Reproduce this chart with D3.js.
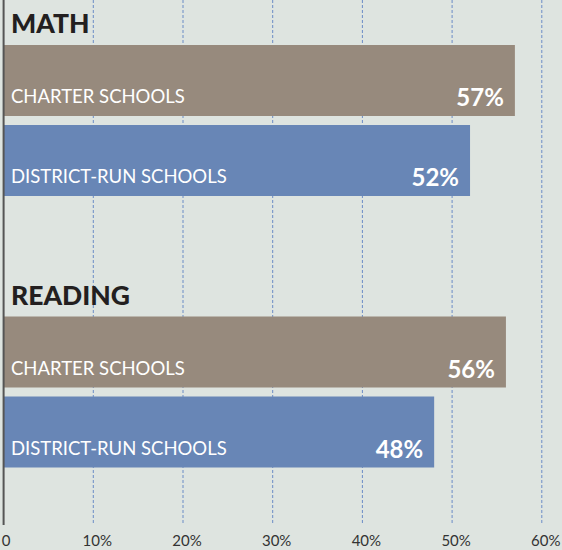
<!DOCTYPE html>
<html>
<head>
<meta charset="utf-8">
<script src="https://cdn.jsdelivr.net/npm/d3@7"></script>
<style>
  html, body { margin: 0; padding: 0; background: #dee4e0; }
  svg { display: block; font-family: Lato, "Open Sans", sans-serif; }
</style>
</head>
<body>
<svg id="chart" width="562" height="550"></svg>
<script>
const subjects = ["MATH", "READING"];
const schoolTypes = ["CHARTER SCHOOLS", "DISTRICT-RUN SCHOOLS"];
const mathValues = [57, 52];
const readingValues = [56, 48];
const tickValues = [0, 10, 20, 30, 40, 50, 60];
const tickLabels = ["0", "10%", "20%", "30%", "40%", "50%", "60%"];

const valuesBySubject = { MATH: mathValues, READING: readingValues };
const colors = { "CHARTER SCHOOLS": "#978a7d", "DISTRICT-RUN SCHOOLS": "#6886b6" };

const svg = d3.select("#chart");
const width = +svg.attr("width"), height = +svg.attr("height");

svg.append("rect").attr("width", width).attr("height", height).attr("fill", "#dee4e0");

const x = d3.scaleLinear().domain([0, 60]).range([3.6, 541.8]);
const ySubject = d3.scaleBand().domain(subjects).range([0, 543]);
const yType = d3.scaleBand().domain(schoolTypes)
  .range([40.5, 200.5])
  .paddingInner(9 / 80)
  .paddingOuter(4.5 / 80);

const axisBottomY = 525;

// grid lines
svg.append("g").selectAll("line")
  .data(tickValues.filter(d => d > 0))
  .enter().append("line")
  .attr("x1", d => x(d)).attr("x2", d => x(d))
  .attr("y1", 0).attr("y2", axisBottomY)
  .attr("stroke", "#6b8cc6")
  .attr("stroke-width", 1)
  .attr("stroke-dasharray", "3,2");

// tick labels
svg.append("g").selectAll("text")
  .data(tickValues)
  .enter().append("text")
  .attr("x", d => x(d) + (d === 0 ? 2.5 : 4))
  .attr("y", 546)
  .attr("text-anchor", "middle")
  .attr("fill", "#333")
  .style("font-size", "15px")
  .text((d, i) => tickLabels[i]);

const groups = svg.append("g").selectAll("g")
  .data(subjects)
  .enter().append("g")
  .attr("transform", d => `translate(0,${ySubject(d)})`);

groups.append("text")
  .attr("x", 11)
  .attr("y", 33)
  .attr("fill", "#231f20")
  .style("font-size", "26.5px")
  .style("font-weight", 900)
  .text(d => d);

const bars = groups.selectAll("g.bar")
  .data(s => schoolTypes.map((t, i) => ({ subject: s, type: t, value: valuesBySubject[s][i] })))
  .enter().append("g").attr("class", "bar");

bars.append("rect")
  .attr("x", x(0))
  .attr("y", d => yType(d.type))
  .attr("width", d => x(d.value) - x(0))
  .attr("height", yType.bandwidth())
  .attr("fill", d => colors[d.type]);

bars.append("text")
  .attr("x", 11)
  .attr("y", d => yType(d.type) + yType.bandwidth() - 13)
  .attr("fill", "#fff")
  .style("font-size", "18.5px")
  .text(d => d.type);

bars.append("text")
  .attr("x", d => x(d.value) - 11)
  .attr("y", d => yType(d.type) + yType.bandwidth() - 10)
  .attr("text-anchor", "end")
  .attr("fill", "#fff")
  .style("font-size", "24px")
  .style("font-weight", 700)
  .text(d => d.value + "%");

// left axis line
svg.append("line")
  .attr("x1", x(0)).attr("x2", x(0))
  .attr("y1", 0).attr("y2", axisBottomY)
  .attr("stroke", "#555")
  .attr("stroke-width", 2);
</script>
</body>
</html>
